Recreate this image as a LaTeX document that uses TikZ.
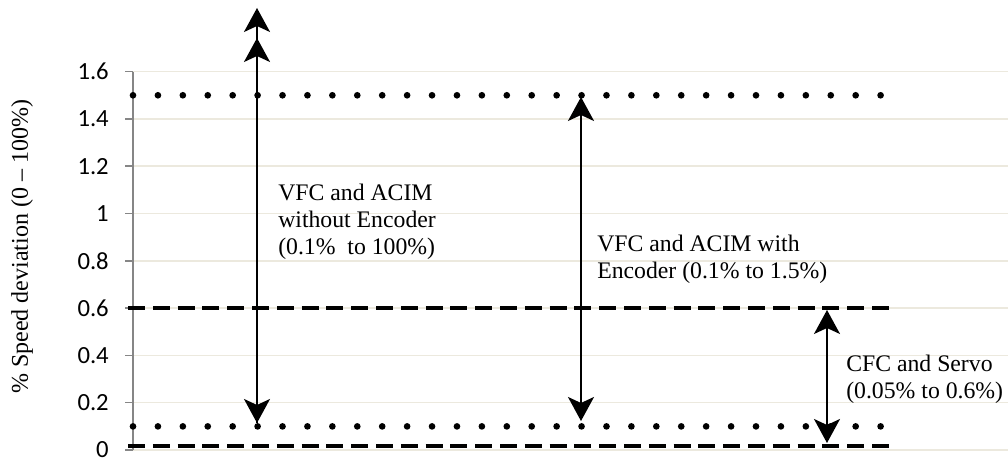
\documentclass[tikz,border=0pt]{standalone}
\usepackage{fontspec}
\setmainfont{Liberation Serif}
\newfontfamily\tickfont{Carlito}
\usetikzlibrary{arrows.meta}
\definecolor{gridcol}{RGB}{236,233,222}
\definecolor{axiscol}{RGB}{134,134,134}

\begin{document}
\begin{tikzpicture}[x=0.75pt,y=0.75pt,
                    tick label/.style={anchor=east,inner sep=0pt,font=\tickfont\fontsize{18.5}{20}\selectfont},
                    range label/.style={anchor=north west,align=left,inner sep=0pt,font=\fontsize{17.8}{20}\selectfont},
                    range arrow/.style={line width=1.5pt,{Stealth[length=18pt,width=19.5pt,inset=4.5pt]}-{Stealth[length=18pt,width=19.5pt,inset=4.5pt]}},
                    dot line/.style={line width=5pt,line cap=round,dash pattern=on 0pt off 18.69pt},
                    dash line/.style={line width=2.6pt,dash pattern=on 12.8pt off 5.8pt}]

          \useasboundingbox (0,0) rectangle (1008,463);

          % grid, ticks and tick labels
          \foreach \v in {0,0.2,0.4,0.6,0.8,1,1.2,1.4,1.6}{
            \draw[gridcol,line width=1.1pt] (133,{13+236.5*\v}) -- (1008,{13+236.5*\v});
            \draw[axiscol,line width=1.1pt] (125,{13+236.5*\v}) -- (133,{13+236.5*\v});
            \node[tick label] at (109,{13+236.5*\v}) {\v};
          }
          \draw[axiscol,line width=1.5pt] (133,13) -- (133,391.4);

          \node[rotate=90,font=\fontsize{18}{20}\selectfont] (ylab) at (22,216) {\% Speed deviation (0 -- 100\%)};

          % limits
          \coordinate (top dots l) at (133,367.7);
          \coordinate (top dots r) at (881,367.7);
          \coordinate (low dots l) at (133,36.6);
          \coordinate (low dots r) at (881,36.6);
          \coordinate (mid dash l) at (128,154.9);
          \coordinate (mid dash r) at (889,154.9);
          \coordinate (low dash l) at (128,17);
          \coordinate (low dash r) at (889,17);

          \draw[dot line] (top dots l) -- (top dots r);
          \draw[dot line] (low dots l) -- (low dots r);
          \draw[dash line] (mid dash l) -- (mid dash r);
          \draw[dash line] (low dash l) -- (low dash r);

          % ranges
          \coordinate (a1) at (257,40);
          \coordinate (b1) at (257,425);
          \coordinate (c1) at (257,455);
          \coordinate (a2) at (581,42);
          \coordinate (b2) at (581,366);
          \coordinate (a3) at (827,20);
          \coordinate (b3) at (827,153);

          \draw[range arrow] (a1) -- (b1);
          \draw[line width=1.5pt,-{Stealth[length=18pt,width=19.5pt,inset=4.5pt]}] (a1) -- (c1);
          \draw[range arrow] (a2) -- (b2);
          \draw[range arrow] (a3) -- (b3);

          \node[range label] (no enc) at (278,279) {VFC and ACIM\\without Encoder\\(0.1\%\ \ to 100\%)};
          \node[range label] (enc) at (597,228) {VFC and ACIM with\\Encoder (0.1\% to 1.5\%)};
          \node[range label] (servo) at (846,108) {CFC and Servo\\(0.05\% to 0.6\%)};

        \end{tikzpicture}
\end{document}
